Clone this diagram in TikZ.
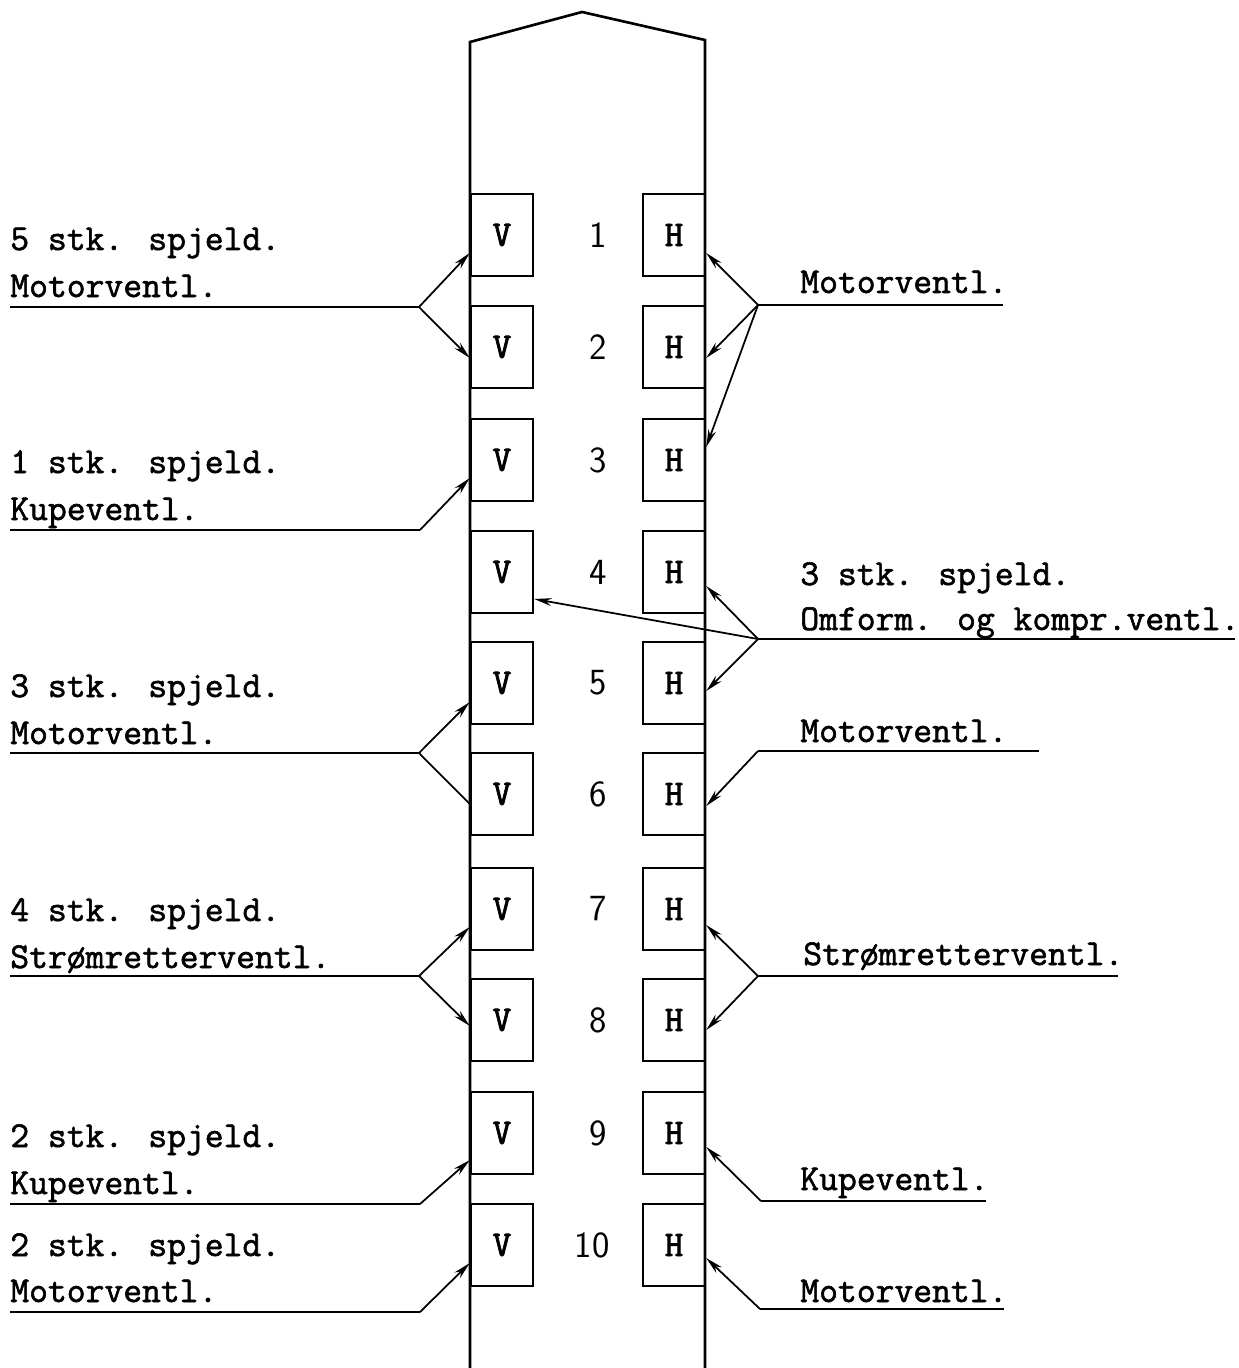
\documentclass[tikz,border=0pt]{standalone}
\usepackage{fontspec}
\newfontfamily\twfont{Latin Modern Mono}[FakeBold=1.6]
\newfontfamily\boxfont{Latin Modern Mono}[FakeBold=2.2]
\usetikzlibrary{arrows.meta,calc}
\begin{document}
\begin{tikzpicture}[x=0.02cm,y=-0.02cm,
  lbl/.style={font=\fontsize{20.8}{24}\selectfont\twfont, inner sep=0pt, anchor=base west},
  vbox/.style={draw, line width=1.4pt, minimum width=1.24cm, minimum height=1.64cm, inner sep=0pt, font=\fontsize{20.5}{22}\selectfont\boxfont},
  num/.style={font=\fontsize{21}{23}\selectfont\sffamily, inner sep=0pt},
  conn/.style={line width=1pt},
  arr/.style={conn, -{Stealth[length=10pt,width=4.5pt]}},
  body/.style={line width=1.5pt, line join=miter}]
\useasboundingbox (0,0) rectangle (1238,1368);

% body outline
\coordinate (bL) at (470,1368);
\coordinate (sL) at (470,42);
\coordinate (pk) at (582,12);
\coordinate (sR) at (705,40);
\coordinate (bR) at (705,1368);

% boxes and numbers
\foreach \i/\y in {1/235,2/347,3/460,4/572,5/683,6/794,7/909,8/1020,9/1133,10/1245} {
  \node[vbox] (V\i) at (502,\y) {V};
  \node[vbox] (H\i) at (674,\y) {H};
}
\foreach \i/\y in {1/235,2/347,3/460,4/572,5/683,6/794,7/909,8/1020,9/1133} {
  \node[num] (N\i) at (598,\y) {\i};
}
\node[num] (N10) at (592,1245) {10};

\draw[body] (bL) -- (sL) -- (pk) -- (sR) -- (bR);

% ---------- left labels ----------
\node[lbl] (L1a) at (10,250) {5 stk. spjeld.};
\node[lbl] (L1b) at (10,297) {Motorventl.};
\coordinate (uL1) at (10,307);
\coordinate (aL1) at (419,307);
\draw[conn] (uL1) -- (aL1);
\draw[arr] (aL1) -- ($(V1.west)+(0,18)$);
\draw[arr] (aL1) -- ($(V2.west)+(0,11)$);

\node[lbl] (L2a) at (10,473) {1 stk. spjeld.};
\node[lbl] (L2b) at (10,520) {Kupeventl.};
\coordinate (uL2) at (10,530);
\coordinate (aL2) at (420,530);
\draw[conn] (uL2) -- (aL2);
\draw[arr] (aL2) -- ($(V3.west)+(0,18)$);

\node[lbl] (L3a) at (10,697) {3 stk. spjeld.};
\node[lbl] (L3b) at (10,744) {Motorventl.};
\coordinate (uL3) at (10,753);
\coordinate (aL3) at (419,753);
\draw[conn] (uL3) -- (aL3);
\draw[arr] (aL3) -- ($(V5.west)+(0,19)$);
\draw[conn] (aL3) -- ($(V6.west)+(0,10)$);

\node[lbl] (L4a) at (10,921) {4 stk. spjeld.};
\node[lbl] (L4b) at (10,968) {Strømretterventl.};
\coordinate (uL4) at (10,976);
\coordinate (aL4) at (419,976);
\draw[conn] (uL4) -- (aL4);
\draw[arr] (aL4) -- ($(V7.west)+(0,18)$);
\draw[arr] (aL4) -- ($(V8.west)+(0,6)$);

\node[lbl] (L5a) at (10,1147) {2 stk. spjeld.};
\node[lbl] (L5b) at (10,1194) {Kupeventl.};
\coordinate (uL5) at (10,1204);
\coordinate (aL5) at (420,1204);
\draw[conn] (uL5) -- (aL5);
\draw[arr] (aL5) -- ($(V9.west)+(0,27)$);

\node[lbl] (L6a) at (10,1256) {2 stk. spjeld.};
\node[lbl] (L6b) at (10,1302) {Motorventl.};
\coordinate (uL6) at (10,1312);
\coordinate (aL6) at (420,1312);
\draw[conn] (uL6) -- (aL6);
\draw[arr] (aL6) -- ($(V10.west)+(0,18)$);

% ---------- right labels ----------
\node[lbl] (R1) at (800,293) {Motorventl.};
\coordinate (aR1) at (758,305);
\coordinate (uR1) at (1003,305);
\draw[conn] (aR1) -- (uR1);
\draw[arr] (aR1) -- ($(H1.east)+(0,18)$);
\draw[arr] (aR1) -- ($(H2.east)+(0,11)$);
\draw[arr] (aR1) -- ($(H3.east)+(0,-13)$);

\node[lbl] (R2a) at (800,585) {3 stk. spjeld.};
\node[lbl] (R2b) at (800,630) {Omform. og kompr.ventl.};
\coordinate (aR2) at (758,639);
\coordinate (uR2) at (1235,639);
\draw[conn] (aR2) -- (uR2);
\draw[arr] (aR2) -- ($(H4.east)+(0,14)$);
\draw[arr] (aR2) -- ($(H5.east)+(0,8)$);
\draw[arr] (aR2) -- ($(V4.east)+(0,27)$);

\node[lbl] (R3) at (800,742) {Motorventl.};
\coordinate (aR3) at (758,751);
\coordinate (uR3) at (1039,751);
\draw[conn] (aR3) -- (uR3);
\draw[arr] (aR3) -- ($(H6.east)+(0,12)$);

\node[lbl] (R4) at (803,965) {Strømretterventl.};
\coordinate (aR4) at (758,976);
\coordinate (uR4) at (1118,976);
\draw[conn] (aR4) -- (uR4);
\draw[arr] (aR4) -- ($(H7.east)+(0,16)$);
\draw[arr] (aR4) -- ($(H8.east)+(0,10)$);

\node[lbl] (R5) at (800,1190) {Kupeventl.};
\coordinate (aR5) at (761,1201);
\coordinate (uR5) at (986,1201);
\draw[conn] (aR5) -- (uR5);
\draw[arr] (aR5) -- ($(H9.east)+(0,14)$);

\node[lbl] (R6) at (800,1302) {Motorventl.};
\coordinate (aR6) at (760,1309);
\coordinate (uR6) at (1004,1309);
\draw[conn] (aR6) -- (uR6);
\draw[arr] (aR6) -- ($(H10.east)+(0,13)$);
\end{tikzpicture}
\end{document}
